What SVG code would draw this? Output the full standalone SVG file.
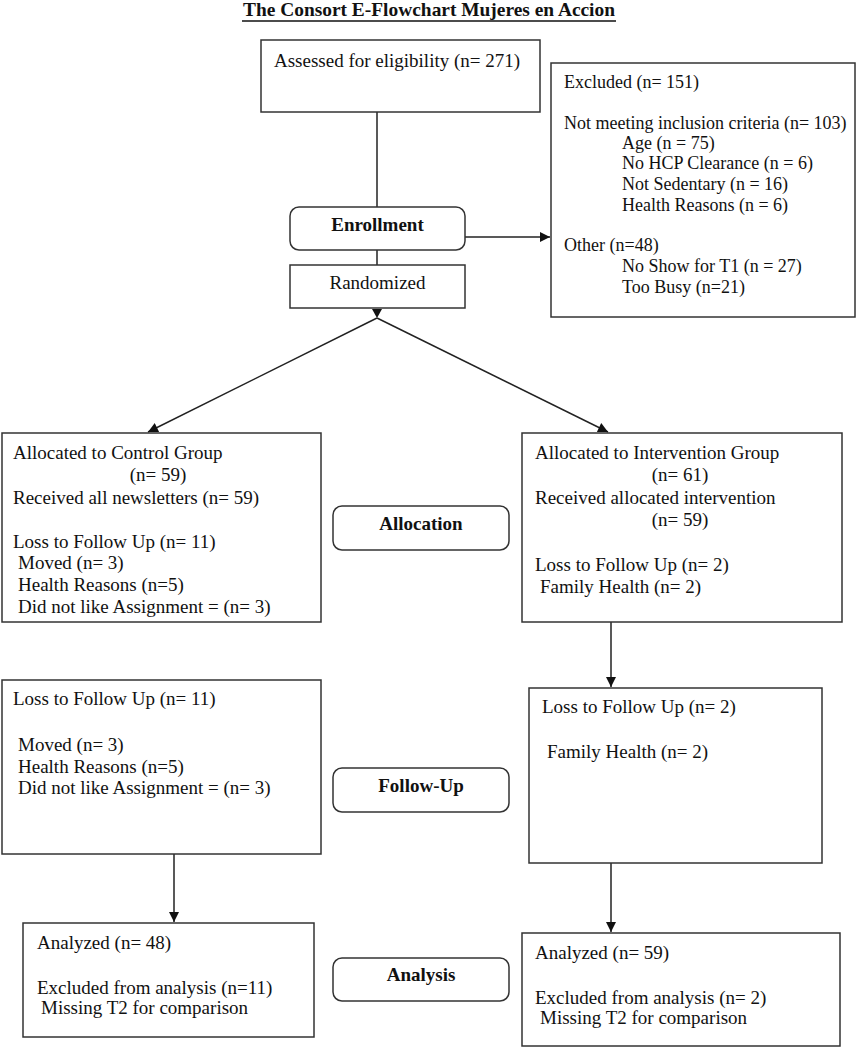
<svg xmlns="http://www.w3.org/2000/svg" width="857" height="1050" viewBox="0 0 857 1050">
<defs>
<style>
text{font-family:"Liberation Serif","Times New Roman",serif;font-size:19px;fill:#111}
.b{font-weight:bold}
.c{text-anchor:middle}
.s{font-size:18px}
.box{fill:#fff;stroke:#333;stroke-width:1.5}
.ln{fill:none;stroke:#222;stroke-width:1.5}
</style>
<marker id="ah" viewBox="0 0 10 10" refX="10" refY="5" markerWidth="11" markerHeight="10" markerUnits="userSpaceOnUse" orient="auto">
<path d="M0,0 L10,5 L0,10 z" fill="#111"/>
</marker>
</defs>
<g id="title">
<text class="b c" x="429" y="16" textLength="372" lengthAdjust="spacingAndGlyphs">The Consort E-Flowchart Mujeres en Accion</text>
<line x1="242" y1="21" x2="616" y2="21" stroke="#111" stroke-width="1.5"/>
</g>
<g id="connectors">
<line class="ln" x1="377" y1="112" x2="377" y2="207"/>
<line class="ln" x1="465" y1="237" x2="550" y2="237" marker-end="url(#ah)"/>
<line class="ln" x1="377" y1="250" x2="377" y2="265"/>
<path d="M372,309 L382,309 L377,318 z" fill="#111"/>
<line class="ln" x1="377" y1="318" x2="148" y2="432" marker-end="url(#ah)"/>
<line class="ln" x1="377" y1="318" x2="608" y2="432" marker-end="url(#ah)"/>
<line class="ln" x1="611" y1="622" x2="611" y2="687" marker-end="url(#ah)"/>
<line class="ln" x1="174" y1="854" x2="174" y2="922" marker-end="url(#ah)"/>
<line class="ln" x1="611" y1="863" x2="611" y2="932" marker-end="url(#ah)"/>
</g>
<g id="assessed">
<rect class="box" x="261" y="40" width="279" height="72"/>
<text x="274" y="67">Assessed for eligibility (n= 271)</text>
</g>
<g id="excluded">
<rect class="box" x="551" y="63" width="304" height="254"/>
<text class="s" x="564" y="88">Excluded (n= 151)</text>
<text class="s" x="564" y="129">Not meeting inclusion criteria (n= 103)</text>
<text class="s" x="622" y="149">Age (n = 75)</text>
<text class="s" x="622" y="169">No HCP Clearance (n = 6)</text>
<text class="s" x="622" y="190">Not Sedentary (n = 16)</text>
<text class="s" x="622" y="211">Health Reasons (n = 6)</text>
<text class="s" x="564" y="251">Other (n=48)</text>
<text class="s" x="622" y="272">No Show for T1 (n = 27)</text>
<text class="s" x="622" y="293">Too Busy (n=21)</text>
</g>
<g id="enrollment">
<rect class="box" x="290" y="207" width="175" height="43" rx="9"/>
<text class="b c" x="377.5" y="231">Enrollment</text>
</g>
<g id="randomized">
<rect class="box" x="290" y="265" width="175" height="43"/>
<text class="c" x="377.5" y="289">Randomized</text>
</g>
<g id="control">
<rect class="box" x="2" y="433" width="319" height="189"/>
<text x="13" y="459">Allocated to Control Group</text>
<text class="c" x="158" y="481">(n= 59)</text>
<text x="13" y="504">Received all newsletters (n= 59)</text>
<text x="13" y="548">Loss to Follow Up (n= 11)</text>
<text x="18" y="569">Moved (n= 3)</text>
<text x="18" y="591">Health Reasons (n=5)</text>
<text x="18" y="613">Did not like Assignment = (n= 3)</text>
</g>
<g id="intervention">
<rect class="box" x="522" y="433" width="320" height="189"/>
<text x="535" y="459">Allocated to Intervention Group</text>
<text class="c" x="680" y="481">(n= 61)</text>
<text x="535" y="504">Received allocated intervention</text>
<text class="c" x="680" y="526">(n= 59)</text>
<text x="535" y="571">Loss to Follow Up (n= 2)</text>
<text x="540" y="593">Family Health (n= 2)</text>
</g>
<g id="allocation">
<rect class="box" x="333" y="506" width="176" height="44" rx="9"/>
<text class="b c" x="421" y="530">Allocation</text>
</g>
<g id="followup-control">
<rect class="box" x="2" y="680" width="319" height="174"/>
<text x="13" y="705">Loss to Follow Up (n= 11)</text>
<text x="18" y="751">Moved (n= 3)</text>
<text x="18" y="773">Health Reasons (n=5)</text>
<text x="18" y="794">Did not like Assignment = (n= 3)</text>
</g>
<g id="followup">
<rect class="box" x="333" y="768" width="176" height="44" rx="9"/>
<text class="b c" x="421" y="792">Follow-Up</text>
</g>
<g id="followup-intervention">
<rect class="box" x="529" y="688" width="293" height="175"/>
<text x="542" y="713">Loss to Follow Up (n= 2)</text>
<text x="547" y="758">Family Health (n= 2)</text>
</g>
<g id="analysis-control">
<rect class="box" x="23" y="923" width="291" height="114"/>
<text x="37" y="949">Analyzed (n= 48)</text>
<text x="37" y="994">Excluded from analysis (n=11)</text>
<text x="41" y="1014">Missing T2 for comparison</text>
</g>
<g id="analysis">
<rect class="box" x="333" y="958" width="176" height="43" rx="9"/>
<text class="b c" x="421" y="981">Analysis</text>
</g>
<g id="analysis-intervention">
<rect class="box" x="522" y="933" width="318" height="113"/>
<text x="535" y="959">Analyzed (n= 59)</text>
<text x="535" y="1004">Excluded from analysis (n= 2)</text>
<text x="540" y="1024">Missing T2 for comparison</text>
</g>
</svg>
